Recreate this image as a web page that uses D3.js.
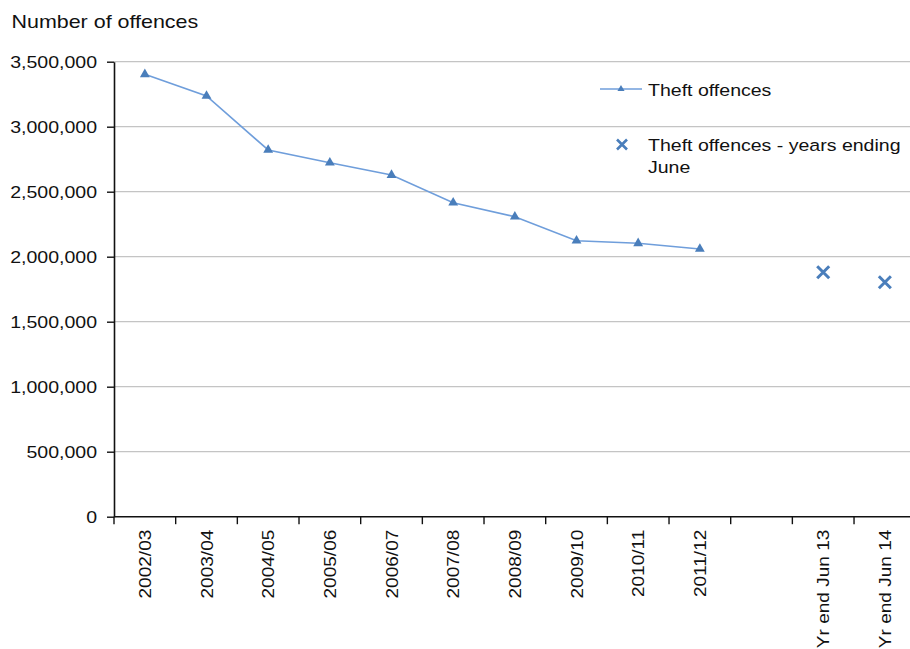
<!DOCTYPE html>
<html>
<head>
<meta charset="utf-8">
<script src="https://cdn.jsdelivr.net/npm/d3@7"></script>
<style>
  html, body { margin: 0; padding: 0; background: #fff; }
  svg { display: block; }
  text { font-family: "Liberation Sans", Arial, sans-serif; fill: #111; }
</style>
</head>
<body>
<svg id="chart" width="910" height="649"></svg>
<script>
// ---- data ----
const categories = ["2002/03","2003/04","2004/05","2005/06","2006/07","2007/08","2008/09","2009/10","2010/11","2011/12","","Yr end Jun 13","Yr end Jun 14"];
const theftYears = ["2002/03","2003/04","2004/05","2005/06","2006/07","2007/08","2008/09","2009/10","2010/11","2011/12"];
const theftValues = [3403000, 3236000, 2821000, 2723000, 2628000, 2415000, 2308000, 2123000, 2103000, 2059000];
const juneYears = ["Yr end Jun 13","Yr end Jun 14"];
const juneValues = [1880000, 1803000];
const yTicks = [0, 500000, 1000000, 1500000, 2000000, 2500000, 3000000, 3500000];
const seriesNames = ["Theft offences", "Theft offences - years ending", "June"];
const titleText = "Number of offences";

// ---- layout ----
const svg = d3.select("#chart");
const mLeft = 114, mRight = 915.7, mTop = 61.7, mBottom = 516.7;
const SX = 1.15;

const x = d3.scaleBand().domain(categories).range([mLeft, mRight]).padding(0);
const y = d3.scaleLinear().domain([0, 3500000]).range([mBottom, mTop]);

// gridlines
svg.append("g").selectAll("line").data(yTicks.filter(d => d > 0)).join("line")
  .attr("x1", mLeft).attr("x2", mRight)
  .attr("y1", d => y(d)).attr("y2", d => y(d))
  .attr("stroke", "#c4c4c4").attr("stroke-width", 1.3);

// y axis
const yAxis = svg.append("g").attr("transform", `translate(${mLeft},0)`)
  .call(d3.axisLeft(y).tickValues(yTicks).tickSize(7).tickSizeOuter(0).tickFormat(d3.format(",")));
yAxis.select(".domain").attr("stroke", "#111").attr("stroke-width", 1.6);
yAxis.selectAll(".tick line").attr("stroke", "#111").attr("stroke-width", 1.4);
yAxis.selectAll(".tick text")
  .attr("x", null).attr("dy", "0.36em")
  .attr("transform", `translate(-17,0) scale(${SX},1)`)
  .style("font-family", "'Liberation Sans', Arial, sans-serif")
  .style("font-size", "17px").attr("fill", "#111");

// x axis line
svg.append("line").attr("x1", mLeft).attr("x2", mRight).attr("y1", mBottom).attr("y2", mBottom)
  .attr("stroke", "#111").attr("stroke-width", 1.6);
// x ticks at band boundaries
const tickPos = categories.map(c => x(c)).concat([x(categories[categories.length-1]) + x.bandwidth()]);
svg.append("g").selectAll("line").data(tickPos).join("line")
  .attr("x1", d => d).attr("x2", d => d).attr("y1", mBottom).attr("y2", mBottom + 7.5)
  .attr("stroke", "#111").attr("stroke-width", 1.4);
// x labels
svg.append("g").selectAll("text").data(categories.filter(c => c !== "")).join("text")
  .attr("transform", d => `translate(${x(d) + x.bandwidth()/2 + 6},${mBottom + 13}) rotate(-90) scale(1.12,1)`)
  .attr("text-anchor", "end")
  .style("font-size", "17px")
  .text(d => d);

// line series
const lineColor = "#6f9edb";
const markColor = "#4a7ebb";
const pts = theftYears.map((c, i) => [x(c) + x.bandwidth()/2, y(theftValues[i])]);
svg.append("path").datum(pts)
  .attr("d", d3.line())
  .attr("fill", "none").attr("stroke", lineColor).attr("stroke-width", 1.6);
const tri = d3.symbol().type(d3.symbolTriangle).size(42);
svg.append("g").selectAll("path").data(pts).join("path")
  .attr("transform", d => `translate(${d[0]},${d[1]})`)
  .attr("d", tri()).attr("fill", markColor);

// June x markers
const xr = 6;
function crossPath(cx, cy, r) {
  return `M${cx-r},${cy-r}L${cx+r},${cy+r}M${cx-r},${cy+r}L${cx+r},${cy-r}`;
}
svg.append("g").selectAll("path").data(juneYears).join("path")
  .attr("d", (c, i) => crossPath(x(c) + x.bandwidth()/2, y(juneValues[i]), xr))
  .attr("stroke", markColor).attr("stroke-width", 3).attr("fill", "none");

// title
svg.append("text").attr("transform", `translate(11.5,28) scale(1.16,1)`)
  .style("font-size", "18.5px").text(titleText);

// legend
const lg = svg.append("g");
lg.append("line").attr("x1", 600).attr("x2", 642).attr("y1", 89).attr("y2", 89)
  .attr("stroke", lineColor).attr("stroke-width", 1.6);
lg.append("path").attr("transform", "translate(621,89)").attr("d", d3.symbol().type(d3.symbolTriangle).size(22)()).attr("fill", markColor);
lg.append("text").attr("transform", `translate(648,95.5) scale(${SX},1)`).style("font-size", "17px").text(seriesNames[0]);
lg.append("path").attr("d", crossPath(622, 144.5, 5)).attr("stroke", markColor).attr("stroke-width", 2.6).attr("fill", "none");
lg.append("text").attr("transform", `translate(648,151) scale(${SX},1)`).style("font-size", "17px").text(seriesNames[1]);
lg.append("text").attr("transform", `translate(648,173) scale(${SX},1)`).style("font-size", "17px").text(seriesNames[2]);
</script>
</body>
</html>
